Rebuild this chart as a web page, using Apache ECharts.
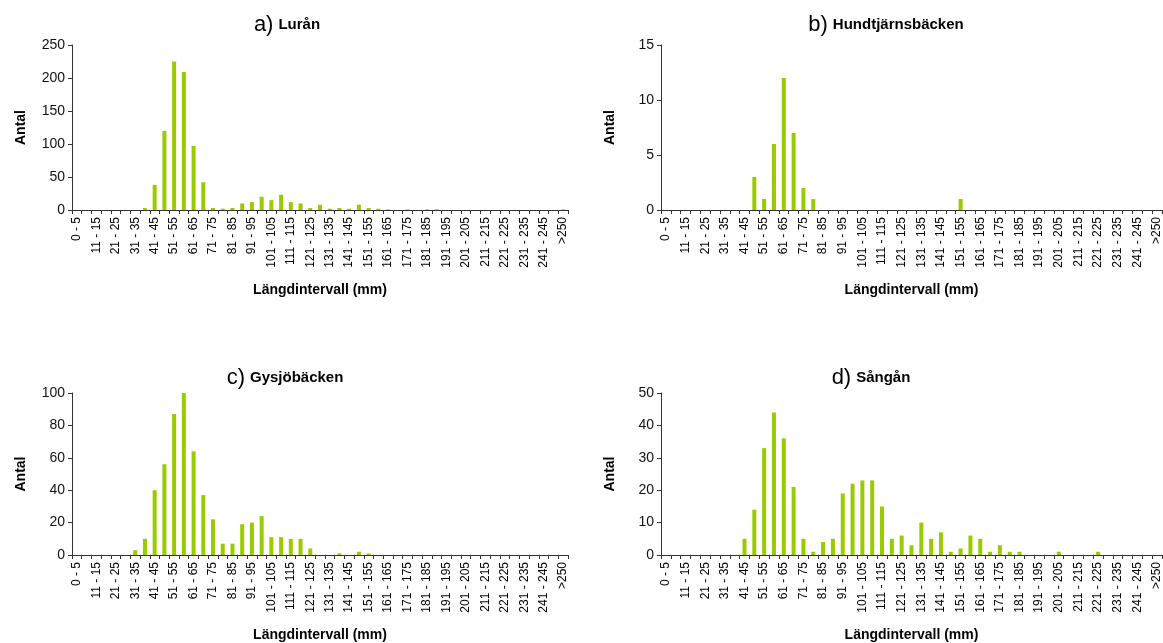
<!DOCTYPE html>
<html>
<head>
<meta charset="utf-8">
<script src="https://cdn.jsdelivr.net/npm/echarts@6/dist/echarts.min.js"></script>
<style>html,body{margin:0;padding:0;background:#fff;}#c{width:1163px;height:643px;}</style>
</head>
<body>
<div id="c"></div>
<script>
// Length interval categories (mm)
const categories = ["0 - 5","6 - 10","11 - 15","16 - 20","21 - 25","26 - 30","31 - 35","36 - 40","41 - 45","46 - 50",
  "51 - 55","56 - 60","61 - 65","66 - 70","71 - 75","76 - 80","81 - 85","86 - 90","91 - 95","96 - 100",
  "101 - 105","106 - 110","111 - 115","116 - 120","121 - 125","126 - 130","131 - 135","136 - 140","141 - 145","146 - 150",
  "151 - 155","156 - 160","161 - 165","166 - 170","171 - 175","176 - 180","181 - 185","186 - 190","191 - 195","196 - 200",
  "201 - 205","206 - 210","211 - 215","216 - 220","221 - 225","226 - 230","231 - 235","236 - 240","241 - 245","246 - 250",
  ">250"];

// a) Lurån
const luran = [0,0,0,0,0,0,0,3,38,120, 225,209,97,42,3,2,3,10,12,20, 15,23,12,10,3,8,2,3,2,8, 3,2,1,0,1,0,1,1,0,0, 0,0,0,0,0,0,0,0,0,0, 1];
// b) Hundtjärnsbäcken
const hundtjarn = [0,0,0,0,0,0,0,0,0,3, 1,6,12,7,2,1,0,0,0,0, 0,0,0,0,0,0,0,0,0,0, 1,0,0,0,0,0,0,0,0,0, 0,0,0,0,0,0,0,0,0,0, 0];
// c) Gysjöbäcken
const gysjo = [0,0,0,0,0,0,3,10,40,56, 87,100,64,37,22,7,7,19,20,24, 11,11,10,10,4,0,0,1,0,2, 1,0,0,0,0,0,0,0,0,0, 0,0,0,0,0,0,0,0,0,0, 0];
// d) Sångån
const sangan = [0,0,0,0,0,0,0,0,5,14, 33,44,36,21,5,1,4,5,19,22, 23,23,15,5,6,3,10,5,7,1, 2,6,5,1,3,1,1,0,0,0, 1,0,0,0,1,0,0,0,0,0, 0];

const panels = [
  {letter:"a)", name:"Lurån", data:luran, max:250, interval:50},
  {letter:"b)", name:"Hundtjärnsbäcken", data:hundtjarn, max:15, interval:5},
  {letter:"c)", name:"Gysjöbäcken", data:gysjo, max:100, interval:20},
  {letter:"d)", name:"Sångån", data:sangan, max:50, interval:10}
];

const FONT = "'Liberation Sans', Arial, sans-serif";
const grids = [
  {left:72, top:45, width:496, height:165},
  {left:661, top:45, width:507, height:165},
  {left:72, top:393, width:496, height:165},
  {left:661, top:393, width:507, height:165}
];
const titlePos = [[282,9],[881,9],[280,362],[866,362]];

const option = {
  animation:false,
  backgroundColor:'#fff',
  textStyle:{fontFamily:FONT},
  title: panels.map((p,i)=>({
    text:'{p|'+p.letter+'} {n|'+p.name+'}',
    left:titlePos[i][0], top:titlePos[i][1], textAlign:'center',
    textStyle:{fontWeight:'normal', rich:{
      p:{fontSize:22, fontWeight:'normal', fontFamily:FONT, color:'#000'},
      n:{fontSize:15, fontWeight:'bold', fontFamily:FONT, color:'#000'}
    }}
  })),
  grid: grids.map(g=>Object.assign({containLabel:false}, g)),
  xAxis: panels.map((p,i)=>({
    type:'category', gridIndex:i, data:categories, boundaryGap:true,
    name:'Längdintervall (mm)', nameLocation:'middle', nameGap:73,
    nameTextStyle:{fontSize:14, fontWeight:'bold', color:'#000', fontFamily:FONT},
    axisLine:{lineStyle:{color:'#333', width:1}},
    axisTick:{show:true, interval:0, length:4, lineStyle:{color:'#333'}},
    axisLabel:{interval:1, rotate:90, fontSize:12, color:'#000', margin:7, fontFamily:FONT},
    splitLine:{show:false}
  })),
  yAxis: panels.map((p,i)=>({
    type:'value', gridIndex:i, min:0, max:p.max, interval:p.interval,
    name:'Antal', nameLocation:'middle', nameGap:44,
    nameTextStyle:{fontSize:14, fontWeight:'bold', color:'#000', fontFamily:FONT},
    axisLine:{show:true, lineStyle:{color:'#333', width:1}},
    axisTick:{show:true, length:4, lineStyle:{color:'#333'}},
    axisLabel:{fontSize:14, color:'#111', margin:7, fontFamily:FONT},
    splitLine:{show:false}
  })),
  series: panels.map((p,i)=>({
    type:'bar', xAxisIndex:i, yAxisIndex:i, data:p.data,
    barWidth:4, itemStyle:{color:'#99CC00'}
  }))
};
echarts.init(document.getElementById('c'), null, {renderer:'canvas'}).setOption(option);
</script>
</body>
</html>
